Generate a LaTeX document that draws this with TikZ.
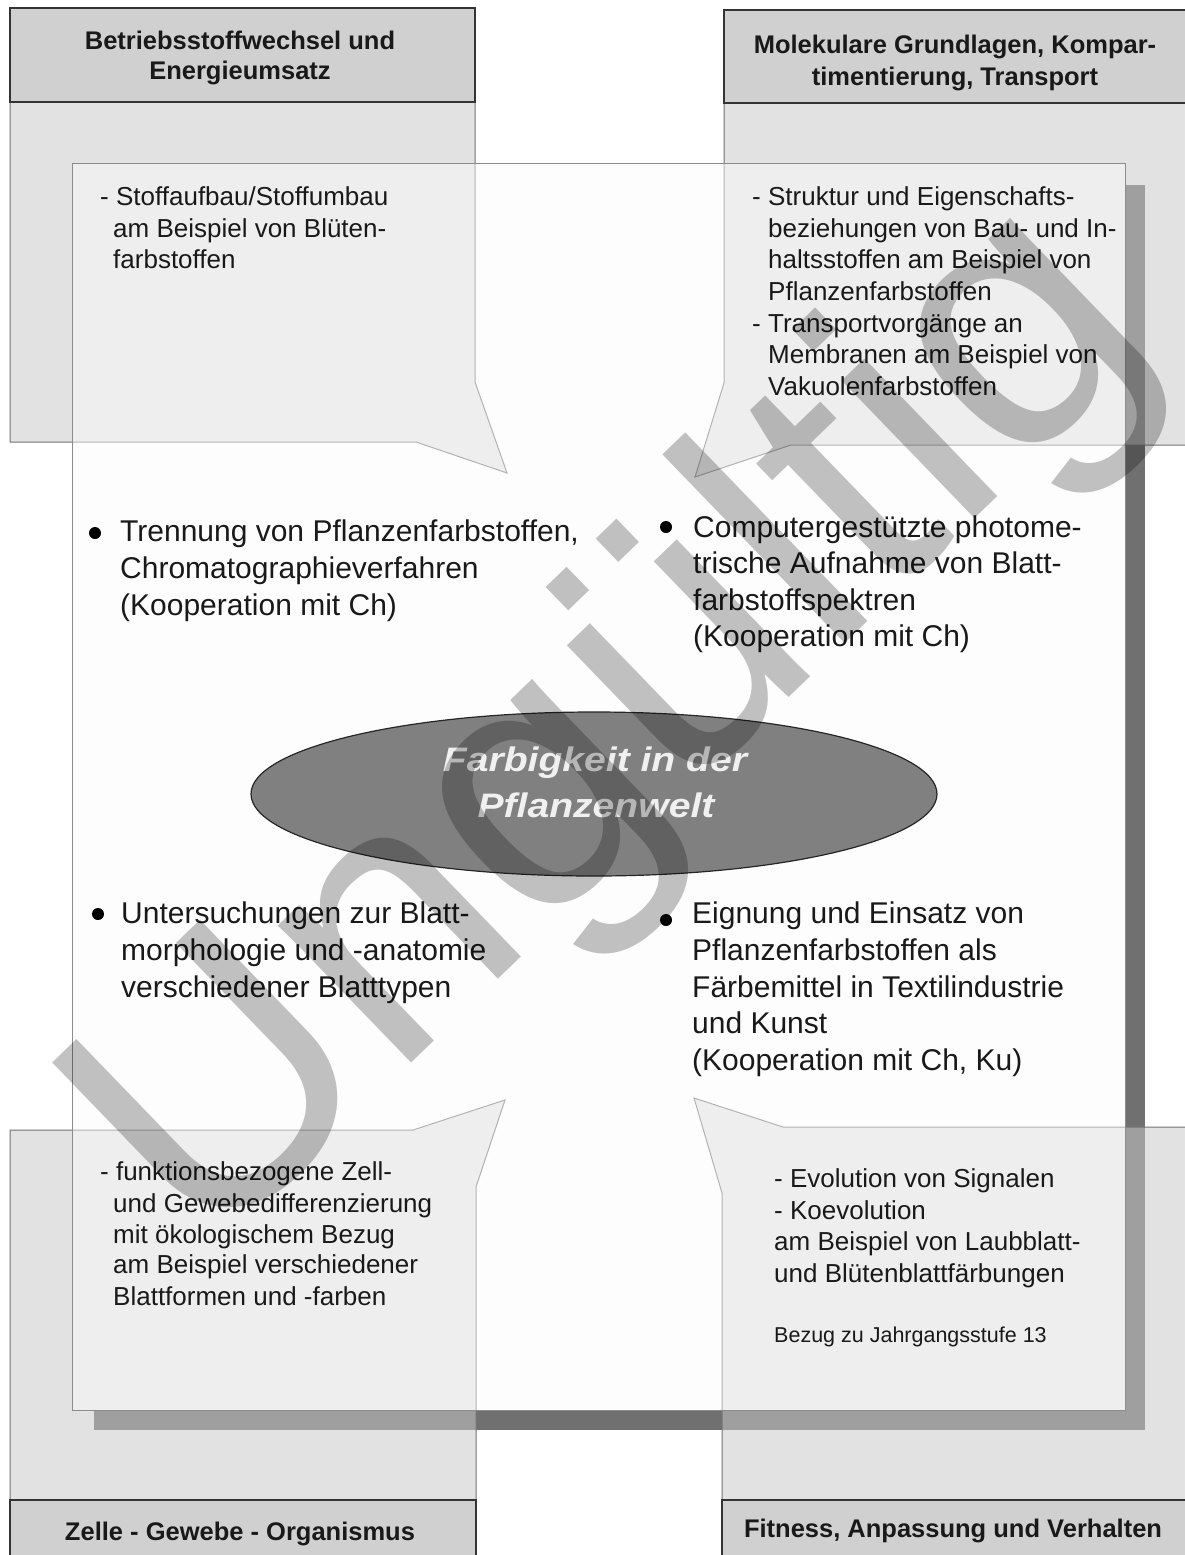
\documentclass[tikz,border=0pt]{standalone}
\usepackage{fontspec}
\setmainfont{Liberation Sans}
\newfontfamily\ellfont[FakeStretch=1.15]{Liberation Sans}
\usetikzlibrary{shapes.geometric}
\definecolor{shadowc}{RGB}{112,112,112}
\definecolor{panelc}{RGB}{252,252,252}
\definecolor{boxc}{RGB}{202,202,202}
\definecolor{headc}{RGB}{208,208,208}
\definecolor{ellc}{RGB}{128,128,128}
\definecolor{txtc}{RGB}{25,25,25}
\begin{document}
\begin{tikzpicture}[x=1pt,y=-1pt,
  boxbody/.style={fill=boxc, fill opacity=0.53, draw=black!55, line width=1pt},
  headbox/.style={fill=headc, draw=black!80, line width=1.4pt},
  maintxt/.style={anchor=base west, inner sep=0pt, text=txtc, font=\fontsize{30}{37}\selectfont},
  boxtxt/.style={anchor=base west, inner sep=0pt, text=txtc, font=\fontsize{26}{32}\selectfont},
  headtxt/.style={anchor=base, inner sep=0pt, text=txtc, font=\fontsize{25.5}{32}\selectfont\bfseries},
  elltxt/.style={anchor=base, inner sep=0pt, text=white!94!black, font=\fontsize{34}{45}\selectfont\ellfont\bfseries\itshape},
  dot/.style={circle, fill=black, inner sep=0pt, minimum size=12pt}]
% page
\fill[white] (0,0) rectangle (1184,1555);
\useasboundingbox (0,0) rectangle (1184,1555);
% panel shadow and panel
\fill[shadowc] (94,185) rectangle (1145,1430);
\fill[panelc] (72,163) rectangle (1125,1410);
% corner boxes with speech tails
\draw[boxbody] (10,8) -- (475,8) -- (475,382) -- (507,473) -- (416,442) -- (10,442) -- cycle;
\draw[boxbody] (724,10) -- (1190,10) -- (1190,445) -- (791,445) -- (695,477) -- (724,383) -- cycle;
\draw[boxbody] (10,1130) -- (413,1130) -- (505,1100) -- (476,1187) -- (476,1560) -- (10,1560) -- cycle;
\draw[boxbody] (1190,1127) -- (783,1127) -- (694,1098) -- (722,1193) -- (722,1560) -- (1190,1560) -- cycle;
% panel veil and border
\fill[white, fill opacity=0.46] (72,163) rectangle (1125,1410);
\draw[black!45, line width=1pt] (72,163) rectangle (1125,1410);
% headers
\draw[headbox] (10,8) rectangle (475,102);
\draw[headbox] (724,10) rectangle (1190,103);
\draw[headbox] (10,1500) rectangle (476,1560);
\draw[headbox] (722,1500) rectangle (1190,1560);
\node[headtxt] (h1a) at (240,50) {Betriebsstoffwechsel und};
\node[headtxt] (h1b) at (240,80) {Energieumsatz};
\node[headtxt] (h2a) at (955,53) {Molekulare Grundlagen, Kompar-};
\node[headtxt] (h2b) at (955,85) {timentierung, Transport};
\node[headtxt] (h3a) at (240,1540) {Zelle - Gewebe - Organismus};
\node[headtxt] (h4a) at (953,1537) {Fitness, Anpassung und Verhalten};
% box texts
\node[boxtxt] (a1) at (100,205) {- Stoffaufbau/Stoffumbau};
\node[boxtxt] (a2) at (113,237) {am Beispiel von Blüten-};
\node[boxtxt] (a3) at (113,268) {farbstoffen};
\node[boxtxt] (b1) at (752,205) {- Struktur und Eigenschafts-};
\node[boxtxt] (b2) at (768,237) {beziehungen von Bau- und In-};
\node[boxtxt] (b3) at (768,268) {haltsstoffen am Beispiel von};
\node[boxtxt] (b4) at (768,300) {Pflanzenfarbstoffen};
\node[boxtxt] (b5) at (752,332) {- Transportvorgänge an};
\node[boxtxt] (b6) at (768,363) {Membranen am Beispiel von};
\node[boxtxt] (b7) at (768,395) {Vakuolenfarbstoffen};
\node[boxtxt] (c1) at (100,1180) {- funktionsbezogene Zell-};
\node[boxtxt] (c2) at (113,1212) {und Gewebedifferenzierung};
\node[boxtxt] (c3) at (113,1243) {mit ökologischem Bezug};
\node[boxtxt] (c4) at (113,1273) {am Beispiel verschiedener};
\node[boxtxt] (c5) at (113,1305) {Blattformen und -farben};
\node[boxtxt] (d1) at (774,1187) {- Evolution von Signalen};
\node[boxtxt] (d2) at (774,1219) {- Koevolution};
\node[boxtxt] (d3) at (774,1250) {am Beispiel von Laubblatt-};
\node[boxtxt] (d4) at (774,1282) {und Blütenblattfärbungen};
\node[boxtxt, font=\fontsize{21.5}{26}\selectfont] (d5) at (774,1342) {Bezug zu Jahrgangsstufe 13};
% central ellipse
\node[ellipse, fill=ellc, draw=black!85, line width=1.2pt, minimum width=686pt, minimum height=164pt] (core) at (594,794) {};
\node[elltxt] (core1) at (595,771) {Farbigkeit in der};
\node[elltxt] (core2) at (596,817) {Pflanzenwelt};
% bullets and main texts
\node[dot] (p1) at (95,533) {};
\node[maintxt] (p1a) at (120,541) {Trennung von Pflanzenfarbstoffen,};
\node[maintxt] (p1b) at (120,578) {Chromatographieverfahren};
\node[maintxt] (p1c) at (120,615) {(Kooperation mit Ch)};
\node[dot] (p2) at (666,527) {};
\node[maintxt] (p2a) at (693,537) {Computergestützte photome-};
\node[maintxt] (p2b) at (693,573) {trische Aufnahme von Blatt-};
\node[maintxt] (p2c) at (693,610) {farbstoffspektren};
\node[maintxt] (p2d) at (693,646) {(Kooperation mit Ch)};
\node[dot] (p3) at (98,914) {};
\node[maintxt] (p3a) at (121,923) {Untersuchungen zur Blatt-};
\node[maintxt] (p3b) at (121,960) {morphologie und -anatomie};
\node[maintxt] (p3c) at (121,997) {verschiedener Blatttypen};
\node[dot] (p4) at (666,920) {};
\node[maintxt] (p4a) at (692,923) {Eignung und Einsatz von};
\node[maintxt] (p4b) at (692,960) {Pflanzenfarbstoffen als};
\node[maintxt] (p4c) at (692,997) {Färbemittel in Textilindustrie};
\node[maintxt] (p4d) at (692,1033) {und Kunst};
\node[maintxt] (p4e) at (692,1070) {(Kooperation mit Ch, Ku)};
% watermark
\node[rotate=44, anchor=base west, inner sep=0pt, text=black, text opacity=0.24, font=\fontsize{362}{362}\selectfont] (wm) at (205,1262) {Ungültig};
\end{tikzpicture}
\end{document}
